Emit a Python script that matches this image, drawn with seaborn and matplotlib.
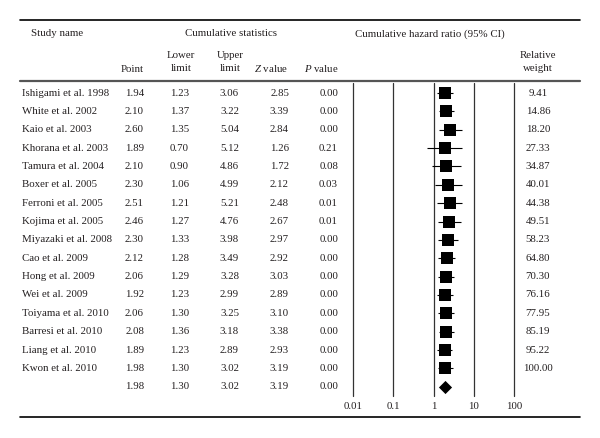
import matplotlib
matplotlib.use("Agg")
import matplotlib.pyplot as plt
import seaborn as sns
import pandas as pd

studies = ["Ishigami et al. 1998", "White et al. 2002", "Kaio et al. 2003",
           "Khorana et al. 2003", "Tamura et al. 2004", "Boxer et al. 2005",
           "Ferroni et al. 2005", "Kojima et al. 2005", "Miyazaki et al. 2008",
           "Cao et al. 2009", "Hong et al. 2009", "Wei et al. 2009",
           "Toiyama et al. 2010", "Barresi et al. 2010", "Liang et al. 2010",
           "Kwon et al. 2010", ""]
point = [1.94, 2.10, 2.60, 1.89, 2.10, 2.30, 2.51, 2.46, 2.30, 2.12, 2.06,
         1.92, 2.06, 2.08, 1.89, 1.98, 1.98]
lower = [1.23, 1.37, 1.35, 0.70, 0.90, 1.06, 1.21, 1.27, 1.33, 1.28, 1.29,
         1.23, 1.30, 1.36, 1.23, 1.30, 1.30]
upper = [3.06, 3.22, 5.04, 5.12, 4.86, 4.99, 5.21, 4.76, 3.98, 3.49, 3.28,
         2.99, 3.25, 3.18, 2.89, 3.02, 3.02]
zval = [2.85, 3.39, 2.84, 1.26, 1.72, 2.12, 2.48, 2.67, 2.97, 2.92, 3.03,
        2.89, 3.10, 3.38, 2.93, 3.19, 3.19]
pval = [0.00, 0.00, 0.00, 0.21, 0.08, 0.03, 0.01, 0.01, 0.00, 0.00, 0.00,
        0.00, 0.00, 0.00, 0.00, 0.00, 0.00]
weight = [9.41, 14.86, 18.20, 27.33, 34.87, 40.01, 44.38, 49.51, 58.23,
          64.80, 70.30, 76.16, 77.95, 85.19, 95.22, 100.00, None]
xticks = [0.01, 0.1, 1, 10, 100]
xticklabels = ["0.01", "0.1", "1", "10", "100"]

df = pd.DataFrame({"study": studies, "point": point, "lower": lower,
                   "upper": upper, "z": zval, "p": pval, "w": weight})
df["row"] = range(len(df))
df["kind"] = ["study"] * (len(df) - 1) + ["total"]

sns.set_theme(style="white")
plt.rcParams["font.family"] = ["Liberation Serif", "DejaVu Serif"]
plt.rcParams["mathtext.fontset"] = "custom"
plt.rcParams["mathtext.it"] = "Liberation Serif:italic"
plt.rcParams["mathtext.rm"] = "Liberation Serif"

W, H = 600, 438
fig = plt.figure(figsize=(6, 4.38), dpi=100)
tc = "#231f20"
fs = 7.8

# table layer in pixel coordinates
tab = fig.add_axes([0, 0, 1, 1])
tab.set_xlim(0, W)
tab.set_ylim(H, 0)
tab.axis("off")

tab.plot([20, 580], [20, 20], color="black", lw=1.2)
tab.plot([20, 580], [80.5, 80.5], color="#555555", lw=1.6)
tab.plot([20, 580], [417, 417], color="black", lw=1.2)

tab.text(31, 34, "Study name", fontsize=fs, color=tc, va="center")
tab.text(231, 34, "Cumulative statistics", fontsize=fs, color=tc, va="center", ha="center")
tab.text(430, 34, "Cumulative hazard ratio (95% CI)", fontsize=fs, color=tc,
         va="center", ha="center")
tab.text(144, 69, "Point", fontsize=fs, color=tc, va="center", ha="right")
tab.text(181, 62, "Lower\nlimit", fontsize=fs, color=tc, va="center", ha="center",
         linespacing=1.6)
tab.text(230, 62, "Upper\nlimit", fontsize=fs, color=tc, va="center", ha="center",
         linespacing=1.6)
tab.text(288, 69, "$Z$ value", fontsize=fs, color=tc, va="center", ha="right")
tab.text(339, 69, "$P$ value", fontsize=fs, color=tc, va="center", ha="right")
tab.text(538, 62, "Relative\nweight", fontsize=fs, color=tc, va="center", ha="center",
         linespacing=1.6)

y0, dy = 93, 18.36
for i, r in df.iterrows():
    y = y0 + i * dy
    tab.text(22, y, r["study"], fontsize=fs, color=tc, va="center")
    tab.text(144, y, f"{r['point']:.2f}", fontsize=fs, color=tc, va="center", ha="right")
    tab.text(189, y, f"{r['lower']:.2f}", fontsize=fs, color=tc, va="center", ha="right")
    tab.text(239, y, f"{r['upper']:.2f}", fontsize=fs, color=tc, va="center", ha="right")
    tab.text(289, y, f"{r['z']:.2f}", fontsize=fs, color=tc, va="center", ha="right")
    tab.text(338, y, f"{r['p']:.2f}", fontsize=fs, color=tc, va="center", ha="right")
    if pd.notna(r["w"]):
        tab.text(538, y, f"{r['w']:.2f}", fontsize=fs, color=tc, va="center", ha="center")

# forest plot axes
x_left, x_right = 353, 514
y_top, y_bot = 83, 396
ax = fig.add_axes([x_left / W, 1 - y_bot / H, (x_right - x_left) / W, (y_bot - y_top) / H])
ax.patch.set_alpha(0)
ax.set_xscale("log")
ax.set_xlim(0.01, 100)
ax.set_ylim((y_bot - y0) / dy, (y_top - y0) / dy)
for s in ax.spines.values():
    s.set_visible(False)
for xv in xticks:
    ax.axvline(xv, color="#333333", lw=0.9, clip_on=False)

st = df[df["kind"] == "study"]
ax.hlines(st["row"], st["lower"], st["upper"], color="black", lw=0.8)
sns.scatterplot(data=st, x="point", y="row", marker="s", s=72, color="black",
                edgecolor="black", linewidth=0, ax=ax, legend=False)
tot = df[df["kind"] == "total"]
sns.scatterplot(data=tot, x="point", y="row", marker="D", s=45, color="black",
                edgecolor="black", linewidth=0, ax=ax, legend=False)

ax.set_yticks([])
ax.set_xticks(xticks)
ax.set_xticklabels(xticklabels, fontsize=fs, color=tc)
ax.minorticks_off()
ax.tick_params(axis="x", length=0, pad=4)
ax.set_xlabel("")
ax.set_ylabel("")

fig.savefig("out.png", dpi=100)
